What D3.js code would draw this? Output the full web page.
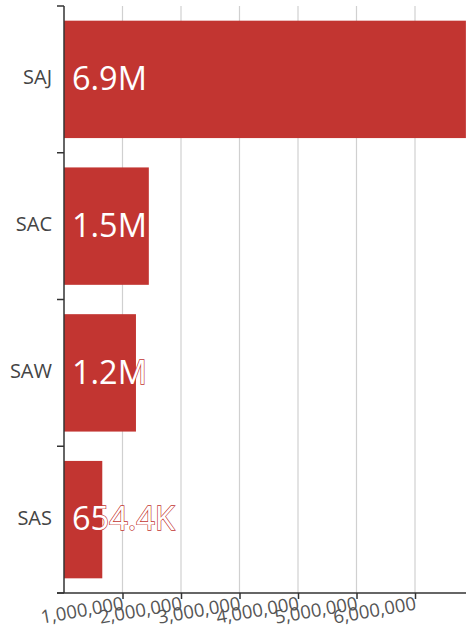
<!DOCTYPE html>
<html>
<head>
<meta charset="utf-8">
<script src="https://cdn.jsdelivr.net/npm/d3@7"></script>
<style>
  html, body { margin: 0; padding: 0; background: #fff; overflow: hidden; }
  svg { display: block; font-family: "Open Sans", sans-serif; }
</style>
</head>
<body>
<div id="chart"></div>
<script>
const categories = ["SAJ", "SAC", "SAW", "SAS"];
const values = [6870000, 1450000, 1230000, 654400];
const valueLabels = ["6.9M", "1.5M", "1.2M", "654.4K"];
const tickValues = [1000000, 2000000, 3000000, 4000000, 5000000, 6000000];

const W = 466, H = 629;
const margin = { left: 64, top: 6, bottom: 36 };
const innerH = H - margin.top - margin.bottom;
const pxPerMillion = 58.5;

const svg = d3.select("#chart").append("svg")
  .attr("width", W).attr("height", H);

const x = d3.scaleLinear()
  .domain([0, 7000000])
  .range([margin.left, margin.left + 7 * pxPerMillion]);

const y = d3.scaleBand()
  .domain(categories)
  .range([margin.top, margin.top + innerH])
  .padding(0);

const barColor = "#c23531";

// gridlines
svg.append("g")
  .selectAll("line")
  .data(tickValues)
  .join("line")
  .attr("x1", d => x(d)).attr("x2", d => x(d))
  .attr("y1", margin.top).attr("y2", margin.top + innerH)
  .attr("stroke", "#d0d0d0").attr("stroke-width", 1.2);

// bars
const inset = y.bandwidth() * 0.1;
svg.append("g")
  .selectAll("rect")
  .data(categories)
  .join("rect")
  .attr("x", x(0))
  .attr("y", d => y(d) + inset)
  .attr("width", (d, i) => x(values[i]) - x(0))
  .attr("height", y.bandwidth() - 2 * inset)
  .attr("fill", barColor);

// value labels
svg.append("g")
  .selectAll("text")
  .data(categories)
  .join("text")
  .attr("x", x(0) + 8)
  .attr("y", d => y(d) + y.bandwidth() / 2)
  .attr("dy", "0.33em")
  .attr("fill", "#fff")
  .attr("stroke", barColor)
  .attr("stroke-width", 1.3)
  .attr("paint-order", "stroke")
  .attr("font-size", 32.5)
  .text((d, i) => valueLabels[i]);

// y axis
const yAxis = svg.append("g")
  .attr("transform", `translate(${margin.left},0)`)
  .call(d3.axisLeft(y).tickSize(0).tickPadding(12));
yAxis.select(".domain").remove();
yAxis.selectAll("text").attr("font-size", 20).attr("fill", "#444")
  .attr("dy", "0.25em").attr("font-family", "Open Sans, sans-serif");
// boundary ticks
const bounds = categories.map(c => y(c)).concat([margin.top + innerH]);
yAxis.append("g").selectAll("line")
  .data(bounds)
  .join("line")
  .attr("x1", -7).attr("x2", 0)
  .attr("y1", d => d).attr("y2", d => d)
  .attr("stroke", "#333").attr("stroke-width", 1.5);
yAxis.append("line")
  .attr("x1", 0).attr("x2", 0)
  .attr("y1", margin.top).attr("y2", margin.top + innerH)
  .attr("stroke", "#333").attr("stroke-width", 1.5);

// x axis
const xAxis = svg.append("g")
  .attr("transform", `translate(0,${margin.top + innerH})`)
  .call(d3.axisBottom(x).tickValues(tickValues).tickFormat(d3.format(",")).tickSizeOuter(0).tickSizeInner(6));
xAxis.select(".domain").attr("d", `M${margin.left - 7},0H${W + 20}`).attr("stroke", "#333").attr("stroke-width", 1.5);
xAxis.selectAll(".tick line").attr("stroke", "#333").attr("stroke-width", 1.5);
xAxis.selectAll("text")
  .attr("font-size", 18.5)
  .attr("fill", "#555")
  .attr("font-family", "Open Sans, sans-serif")
  .attr("text-anchor", "end")
  .attr("x", -1)
  .attr("y", 0).attr("dy", "0.72em")
  .attr("transform", "translate(0,3) rotate(-10)");
</script>
</body>
</html>
